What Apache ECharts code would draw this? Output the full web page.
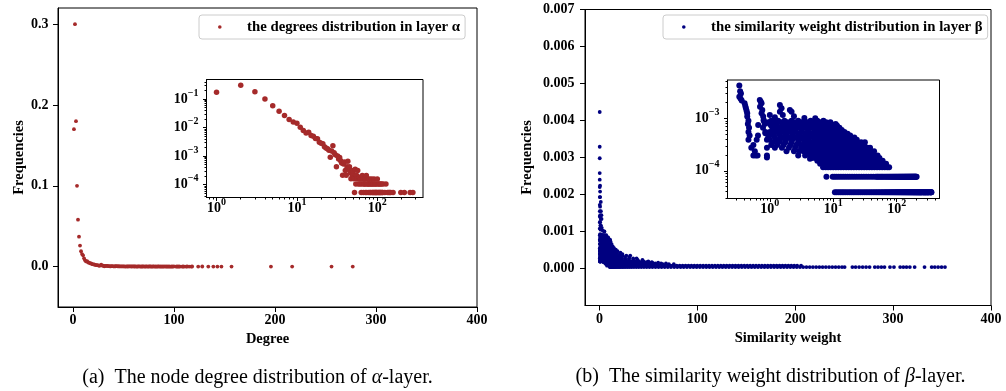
<!DOCTYPE html>
<html><head><meta charset="utf-8">
<script src="https://cdn.jsdelivr.net/npm/echarts@6/dist/echarts.min.js"></script>
<style>html,body{margin:0;padding:0;background:#fff}#c{width:1006px;height:391px}</style>
</head><body><div id="c"></div>
<script>
// ---------- data: panel (a) degree distribution ----------
const degreeA = [1,2,3,4,5,6,7,8,9,10,11,12,13,14,15,16,17,18,19,20,21,22,23,24,25,26,27,28,29,30,
  31,32,33,34,35,36,37,38,39,40,41,42,43,44,45,46,47,48,49,50,51,52,53,54,55,56,57,58,59,60,
  61,62,63,64,65,66,67,68,69,70,71,72,73,74,75,76,77,78,79,80,81,82,83,84,85,86,87,88,89,90,
  91,92,93,94,95,96,97,98,99,100,102,103,104,105,106,108,109,110,112,113,115,117,118,
  124,128,134,139,143,147,157,196,217,256,277];
const freqA = [0.17,0.30,0.18,0.10,0.058,0.037,0.026,0.019,0.0155,0.014,0.0102,0.0078,0.0064,0.0068,0.0052,0.0049,0.0041,0.0040,0.0030,0.0028,
  0.0027,0.0021,0.0019,0.0018,0.0016,0.00091,0.0015,0.0023,0.0013,0.0011,
  0.00042,0.0010,0.00078,0.00089,0.00068,0.00057,0.00021,0.00052,0.00062,0.00031,
  0.00021,0.00042,0.00065,0.00036,0.00042,0.00026,0.00016,0.00031,0.00021,0.00026,
  0.00016,0.000052,0.00034,0.000104,0.00021,0.00016,0.00031,0.000104,0.00016,0.00018,
  1.04e-4,1.56e-4,5.2e-5,1.04e-4,2.08e-4,1.56e-4,5.2e-5,1.04e-4,1.04e-4,1.56e-4,
  5.2e-5,1.04e-4,2.08e-4,5.2e-5,1.04e-4,1.56e-4,1.04e-4,5.2e-5,1.04e-4,1.56e-4,
  5.2e-5,1.04e-4,5.2e-5,1.04e-4,1.56e-4,5.2e-5,1.04e-4,5.2e-5,1.04e-4,5.2e-5,
  1.56e-4,5.2e-5,1.04e-4,5.2e-5,1.04e-4,5.2e-5,5.2e-5,1.04e-4,5.2e-5,1.56e-4,
  5.2e-5,1.04e-4,5.2e-5,1.04e-4,5.2e-5,5.2e-5,1.04e-4,5.2e-5,5.2e-5,1.04e-4,5.2e-5,5.2e-5,1.04e-4,
  5.2e-5,1.04e-4,5.2e-5,5.2e-5,5.2e-5,5.2e-5,5.2e-5,5.2e-5,5.2e-5,5.2e-5,5.2e-5];

// ---------- data: panel (b) similarity weight distribution ----------
// frequency levels and the weights observed at each level
const levelsB = [3.9e-5,7.7e-5,1.17e-4,1.36e-4,1.56e-4,1.75e-4,1.95e-4,2.35e-4,2.75e-4,3.1e-4,3.5e-4,3.9e-4,4.3e-4,4.7e-4,5.1e-4,5.5e-4,6.0e-4,6.6e-4,7.2e-4,7.8e-4,8.4e-4,9.0e-4];
const weightsB = [
  [10.6,11.3,12.1,12.9,13.8,14.7,15.7,16.8,18,19.2,20.6,22,23.6,25.2,27,28.9,30.9,33,35.3,37.7,40.2,42.8,45.5,48.3,51.2,54.2,57.3,60.4,63.5,66.7,69.9,73.1,76.4,79.6,82.9,86.1,89.4,92.7,96,99.3,102.6,105.9,109.2,112.5,115.8,119.1,122.4,125.7,129,132.3,135.6,138.9,142.2,145.5,148.8,152.1,155.4,158.7,162,165.3,168.6,171.9,175.2,178.5,181.8,185.1,188.4,191.7,195,198.3,201.6,204.9,208.2,211.5,214.8,218.1,221.4,224.7,228,231.3,234.6,237.9,241.2,244.5,247.8,250.5,258.4,261.7,265.3,268.9,272.4,276,281.3,284.6,288,291.2,296.8,300.9,307.2,310.5,313.7,317.1,322,332.1,339.4,342.6,346,349.5,353],
  [7.8,9.8,10.5,11.3,12.2,13.2,14.3,15.5,16.8,18.2,19.8,21.5,23.4,25.5,27.8,30.3,33,36,39.3,42.9,46.8,49,51,53.5,56,58.5,61,64,67,70,73,76,79,82,85,88,91,94,97,100,103,106,109,112,115,118,121,124,127,130,133,136,139,142,145,148,151,154,157,160,163,166,169,172,175,178,181,184,187,190,193,196,199,202,206],
  [6.9,7.6,8.3,9.1,10,11,12,13.2,14.5,16,17.5,19.2,21.1,23.2,25.5,28,30.7,33.7,37,40.6,44.6,49,53.8,59,64.8,71,76],
  [6.2,7.3,8.2,9.4,10.5,11.6,12.7,14,15.5,17,18.8,20.8,23,25.4,28,31,34.3,38,42,46.5,51.5,57,63,68],
  [5.6,6.3,7,7.8,8.7,9.7,10.8,12,13.4,15,16.7,18.6,20.7,23,25.6,28.5,31.7,35.3,39.3,43.7,48.6,54,60],
  [4.6,5.2,5.9,6.6,7.4,8.3,9.3,10.4,11.7,13.2,14.9,16.8,18.9,21.3,24,27,30.3,34,38.2,42.8,48,53.5],
  [0.55,0.6,0.64,0.9,2.8,3.6,4.3,4.9,5.5,6.2,7,7.9,8.9,10,11.2,12.6,14.2,16,18,20.2,22.7,25.5,28.6,32,36,40.5,45,50],
  [0.58,1.83,2.4,2.9,3.4,4,4.6,5.3,6.1,7,8,9.2,10.5,12,13.7,15.6,17.8,20.3,23.2,26.5,30.2,34.5,39,44],
  [0.51,0.9,1.2,1.55,2,2.5,3.1,3.7,4.4,5.2,6.1,7.1,8.3,9.6,11.1,12.8,14.8,17.1,19.7,22.7,26.2,30.2,34.5,38],
  [0.55,1.05,1.3,1.65,2.1,2.6,3.2,3.9,4.7,5.6,6.7,8,9.5,11.3,13.4,15.9,18.8,22.2,26.2,30.8],
  [1.1,1.35,1.75,2.2,2.8,3.5,4.3,5.2,6.2,7.4,8.8,10.5,12.5,14.8,17.3,20.2,23.6,27.5,31.5],
  [0.46,0.62,0.9,1.0,1.25,1.44,1.8,2.25,2.8,3.4,4.1,5,6,7.2,8.6,10.3,12.3,14.7,17.5,20.8,23.5],
  [0.95,1.2,1.6,2,2.55,3.2,4,4.9,5.9,7.2,8.7,10.5,12.6,15.2,18,21.5],
  [0.48,0.65,0.95,1.15,1.45,1.85,2.3,2.9,3.6,4.4,5.4,6.6,8,9.7,11.7,14.1,16.5,18.5],
  [1.08,1.4,1.8,2.3,2.9,3.6,4.5,5.6,6.9,8.5,10.3,12.4,14.8,16.8],
  [0.46,0.85,1.0,1.3,1.65,2.1,2.6,3.2,4,5,6.1,7.5,9.2,11.2,13.5,15],
  [1.2,1.55,1.95,2.5,3.2,4,5,6.2,7.7,9.4,11.4,13.6],
  [0.47,0.78,1.1,1.4,1.8,2.3,2.9,3.6,4.5,5.6,7,8.6,10.5,12.5],
  [1.05,1.3,1.65,2.1,2.7,3.4,4.2,5.2,6.5,8,9.8,11.5],
  [0.45,0.83,1.0,1.25,1.6,2,2.5,3.1,3.9,4.9,6.1,7.5,9.2,10.9],
  [0.95,1.2,1.5,1.9,2.45,3.1,3.9,4.9,6.2,7.7,9],
  [0.46,0.8,1.05,1.35,1.7,2.2,2.8,3.5,4.4,5.6,7]
];
// isolated points of panel (b)
const extraWeightB = [0.33,0.34,0.35,0.33,0.345,0.36,0.40,0.41,0.42,0.43,0.44,0.44,0.655,0.695,0.72,0.74,0.70,0.76,0.74,0.785,0.8,0.85,0.9,1.0,1.2,1.44,1.53,1.44,1.6,2.07,2.2,2.4,3.5,5.2,11,1.44,4.3];
const extraFreqB = [4.23e-3,3.29e-3,2.98e-3,2.58e-3,2.4e-3,2.2e-3,1.93e-3,1.72e-3,1.55e-3,1.4e-3,1.25e-3,1.08e-3,7.5e-4,2.24e-3,2.08e-3,1.93e-3,1.67e-3,1.44e-3,1.25e-3,1.08e-3,9.3e-4,5.2e-4,1.8e-4,1.16e-3,1.05e-3,1.8e-3,1.55e-3,1.34e-3,1.16e-3,1.44e-3,1.34e-3,1.1e-3,1.02e-3,1.0e-3,7.5e-4,3.6e-4,1.7e-4];

// ---------- axis ticks ----------
const linXTicks = [0,100,200,300,400];
const yTicksA = [0,0.1,0.2,0.3];
const yTicksB = [0,0.001,0.002,0.003,0.004,0.005,0.006,0.007];
const logXTicks = [1,10,100];
const logYTicksA = [1e-4,1e-3,1e-2,1e-1];
const logYTicksB = [1e-4,1e-3];

const nameA = 'the degrees distribution in layer α';
const nameB = 'the similarity weight distribution in layer β';

// ---------- build ----------
const FONT = "'Liberation Serif','Times New Roman','DejaVu Serif',serif";
const RED = '#a52a2a', NAVY = '#000080';

const dataA = degreeA.map((d, i) => [d, freqA[i]]);
const dataB = [];
weightsB.forEach((row, r) => row.forEach(w => dataB.push([w, levelsB[r]])));
extraWeightB.forEach((w, i) => dataB.push([w, extraFreqB[i]]));

function minorTicks(lo, hi) {
  const out = [];
  for (let e = Math.floor(Math.log10(lo)); e <= Math.ceil(Math.log10(hi)); e++) {
    for (let m = 2; m <= 9; m++) {
      const v = m * Math.pow(10, e);
      if (v >= lo && v <= hi) out.push(v);
    }
  }
  return out;
}

const RICH = {
  b: {fontFamily: FONT, fontWeight: 'bold', fontSize: 14, color: '#000', lineHeight: 14, verticalAlign: 'bottom'},
  s: {fontFamily: FONT, fontWeight: 'bold', fontSize: 10, color: '#000', lineHeight: 10, padding: [0, 0, 8, 0], verticalAlign: 'bottom'}
};
function supLabel(v) {
  const e = Math.round(Math.log10(v));
  return '{b|10}{s|' + (e < 0 ? '\u2212' + (-e) : String(e)) + '}';
}

function linAxis(gi, pos, min, max, ticks, dec, name, nameGap, margin) {
  return {
    gridIndex: gi, type: 'value', position: pos, min: min, max: max,
    name: name, nameLocation: 'middle', nameGap: nameGap,
    nameTextStyle: {fontFamily: FONT, fontWeight: 'bold', fontSize: 14.5, color: '#000'},
    axisLine: {show: true, onZero: false, lineStyle: {color: '#000', width: 1}},
    axisTick: {show: true, inside: false, length: 5, customValues: ticks, lineStyle: {color: '#000', width: 1}},
    axisLabel: {show: true, customValues: ticks, margin: margin, formatter: v => Number(v).toFixed(dec),
      fontFamily: FONT, fontWeight: 'bold', fontSize: 14, color: '#000'},
    splitLine: {show: false}
  };
}
function logAxis(gi, pos, min, max, ticks, margin) {
  return {
    gridIndex: gi, type: 'log', logBase: 10, position: pos, min: min, max: max,
    axisLine: {show: true, onZero: false, lineStyle: {color: '#000', width: 1}},
    axisTick: {show: true, inside: false, length: 3.5, customValues: ticks, lineStyle: {color: '#000', width: 1}},
    axisLabel: {show: true, customValues: ticks, margin: margin, formatter: supLabel, rich: RICH},
    splitLine: {show: false}
  };
}
function minorAxis(gi, pos, min, max) {
  return {
    gridIndex: gi, type: 'log', logBase: 10, position: pos, min: min, max: max,
    axisLine: {show: false, onZero: false},
    axisTick: {show: true, inside: false, length: 2, customValues: minorTicks(min, max), lineStyle: {color: '#000', width: 1}},
    axisLabel: {show: false},
    splitLine: {show: false}
  };
}

const gridStyle = {show: true, borderColor: '#000', borderWidth: 1, backgroundColor: '#fff', containLabel: false};
const legendBase = {
  orient: 'horizontal', top: 15, padding: [4.5, 5, 4.5, 19], itemWidth: 3.6, itemHeight: 3.6, icon: 'circle',
  borderColor: '#cccccc', borderWidth: 1, borderRadius: 3, backgroundColor: 'rgba(255,255,255,0.8)',
  selectedMode: false,
  formatter: n => '{g| }' + n,
  textStyle: {fontFamily: FONT, fontWeight: 'bold', fontSize: 14.8, color: '#000',
    rich: {g: {width: 20.4}}}
};
function scatter(name, xi, yi, data, size, color) {
  return {type: 'scatter', name: name, xAxisIndex: xi, yAxisIndex: yi, data: data, symbol: 'circle',
    symbolSize: size, itemStyle: {color: color, opacity: 1}, emphasis: {disabled: true}, silent: true, animation: false};
}

const chart = echarts.init(document.getElementById('c'), null, {renderer: 'canvas'});
chart.setOption({
  animation: false,
  backgroundColor: '#fff',
  grid: [
    Object.assign({left: 58, top: 8, width: 419, height: 299}, gridStyle),
    Object.assign({left: 206.5, top: 79.5, width: 216.5, height: 118}, gridStyle),
    Object.assign({left: 585, top: 9.5, width: 406, height: 296}, gridStyle),
    Object.assign({left: 727.5, top: 80, width: 212, height: 118.5}, gridStyle)
  ],
  xAxis: [
    linAxis(0, 'bottom', -14.8, 400, linXTicks, 0, 'Degree', 24, 6),
    logAxis(1, 'bottom', 0.75, 370, logXTicks, 4),
    minorAxis(1, 'bottom', 0.75, 370),
    linAxis(2, 'bottom', -14.7, 400, linXTicks, 0, 'Similarity weight', 25.5, 6.5),
    logAxis(3, 'bottom', 0.215, 473, logXTicks, 4),
    minorAxis(3, 'bottom', 0.215, 473)
  ],
  yAxis: [
    linAxis(0, 'left', -0.05, 0.32, yTicksA, 1, 'Frequencies', 31.5, 9.5),
    logAxis(1, 'left', 3.5e-5, 0.48, logYTicksA, 8),
    minorAxis(1, 'left', 3.5e-5, 0.48),
    linAxis(2, 'left', -0.001, 0.007, yTicksB, 3, 'Frequencies', 50, 10.5),
    logAxis(3, 'left', 2.97e-5, 0.00538, logYTicksB, 8),
    minorAxis(3, 'left', 2.97e-5, 0.00538)
  ],
  legend: [
    Object.assign({data: [nameA], left: 199}, legendBase),
    Object.assign({data: [nameB], left: 663}, legendBase)
  ],
  series: [
    scatter(nameA, 0, 0, dataA, 3.8, RED),
    scatter(nameA + ' (log-log)', 1, 1, dataA, 5.5, RED),
    scatter(nameB, 3, 3, dataB, 3.8, NAVY),
    scatter(nameB + ' (log-log)', 4, 4, dataB, 6, NAVY)
  ],
  graphic: [
    {type: 'text', x: 257.5, y: 377.5, silent: true, style: {
      text: '{r|(a)  The node degree distribution of }{i|α}{r|-layer.}',
      align: 'center', verticalAlign: 'middle',
      rich: {r: {fontFamily: FONT, fontSize: 20, fill: '#000'}, i: {fontFamily: FONT, fontSize: 20, fontStyle: 'italic', fill: '#000'}}
    }},
    {type: 'text', x: 770.5, y: 377, silent: true, style: {
      text: '{r|(b)  The similarity weight distribution of }{i|β}{r|-layer.}',
      align: 'center', verticalAlign: 'middle',
      rich: {r: {fontFamily: FONT, fontSize: 20, fill: '#000'}, i: {fontFamily: FONT, fontSize: 20, fontStyle: 'italic', fill: '#000'}}
    }}
  ]
});
</script>
</body></html>
